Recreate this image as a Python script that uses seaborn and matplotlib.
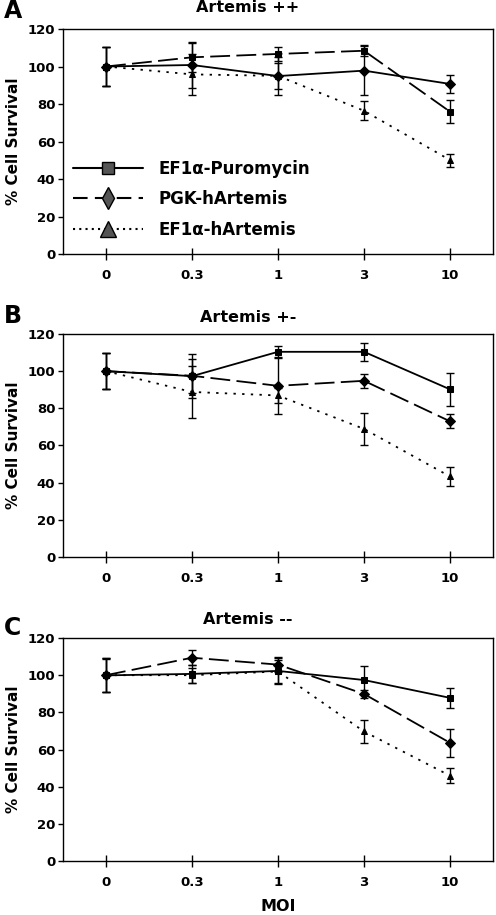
import numpy as np
import pandas as pd
import seaborn as sns
import matplotlib.pyplot as plt
from matplotlib.lines import Line2D

# MOI categories on the x axis
moi_labels = ['0', '0.3', '1', '3', '10']
series_names = ['EF1α-Puromycin', 'PGK-hArtemis', 'EF1α-hArtemis']

# Panel A - Artemis ++
a_puro = [100, 100.8, 94.9, 97.8, 90.7]
a_puro_err = [10.5, 12, 10, 13, 5]
a_pgk = [100, 104.9, 106.7, 108.4, 75.9]
a_pgk_err = [10.5, 8, 3.5, 3, 6]
a_hart = [100, 95.8, 95, 76.4, 50.1]
a_hart_err = [10.5, 11, 7, 5, 3.5]

# Panel B - Artemis +-
b_puro = [100, 97.3, 110.4, 110.4, 90.2]
b_puro_err = [9.7, 12, 3, 5, 9]
b_pgk = [100, 97.5, 92.1, 94.8, 73.0]
b_pgk_err = [9.7, 9, 15, 3.7, 3.8]
b_hart = [100, 88.8, 86.9, 68.9, 43.3]
b_hart_err = [9.7, 14, 4, 8.8, 5]

# Panel C - Artemis --
c_puro = [99.9, 100.7, 102.3, 97.4, 87.8]
c_puro_err = [9, 5, 7, 7.5, 5.5]
c_pgk = [100, 109.4, 105.7, 89.9, 63.6]
c_pgk_err = [9, 4, 4, 2, 7.7]
c_hart = [100, 100, 102, 69.7, 45.9]
c_hart_err = [9, 4, 6, 6, 3.9]

sns.set_style('ticks')
plt.rcParams['font.family'] = ['DejaVu Sans']
plt.rcParams['font.weight'] = 'bold'
plt.rcParams['text.color'] = 'black'
plt.rcParams['axes.labelcolor'] = 'black'
plt.rcParams['xtick.color'] = 'black'
plt.rcParams['ytick.color'] = 'black'

line_dashes = {series_names[0]: '', series_names[1]: (11, 3.5), series_names[2]: (1.3, 3.5)}
normal_markers = {series_names[0]: 's', series_names[1]: 'D', series_names[2]: '^'}
# in panel A the figure shows squares on the dashed line and diamonds on the solid one
swapped_markers = {series_names[0]: 'D', series_names[1]: 's', series_names[2]: '^'}


def draw_panel(ax, vals, errs, markers, title, letter, fig, title_y, letter_y):
    rows = []
    for name, v in zip(series_names, vals):
        for i, y in enumerate(v):
            rows.append({'pos': i, 'value': y, 'series': name})
    df = pd.DataFrame(rows)

    # error bars first so the lines sit on top
    for v, e in zip(vals, errs):
        ax.errorbar(range(len(moi_labels)), v, yerr=e, fmt='none', ecolor='black',
                    elinewidth=1, capsize=3, capthick=1, zorder=2)

    sns.lineplot(data=df, x='pos', y='value', style='series', style_order=series_names,
                 dashes=line_dashes, markers=markers, color='black', linewidth=1.3,
                 markersize=5, markeredgecolor='black', legend=False, ax=ax, zorder=3)

    ax.set_xlim(-0.5, 4.5)
    ax.set_ylim(0, 120)
    ax.set_yticks(np.arange(0, 121, 20))
    ax.set_xticks(range(len(moi_labels)))
    ax.set_xticklabels(moi_labels)
    ax.set_xlabel('')
    ax.set_ylabel('% Cell Survival', fontsize=11, fontweight='bold', labelpad=5)
    ax.tick_params(axis='y', direction='out', length=3.5, width=1, pad=2, labelsize=9.5)
    ax.tick_params(axis='x', direction='inout', length=8, width=1, pad=7, labelsize=9.5)
    for sp in ax.spines.values():
        sp.set_linewidth(1)
        sp.set_color('black')

    fig.text(0.5, title_y, title, ha='center', va='center', fontsize=11.5, fontweight='bold')
    fig.text(0.008, letter_y, letter, ha='left', va='center', fontsize=17, fontweight='bold')


fig = plt.figure(figsize=(4.96, 9.15), dpi=100)
ax_a = fig.add_axes([0.127, 0.7224, 0.867, 0.2459])
ax_b = fig.add_axes([0.127, 0.3913, 0.867, 0.2437])
ax_c = fig.add_axes([0.127, 0.059, 0.867, 0.2437])

draw_panel(ax_a, [a_puro, a_pgk, a_hart], [a_puro_err, a_pgk_err, a_hart_err],
           swapped_markers, 'Artemis ++', 'A', fig, 1 - 8 / 915, 1 - 11 / 915)
draw_panel(ax_b, [b_puro, b_pgk, b_hart], [b_puro_err, b_pgk_err, b_hart_err],
           normal_markers, 'Artemis +-', 'B', fig, 1 - 318 / 915, 1 - 316 / 915)
draw_panel(ax_c, [c_puro, c_pgk, c_hart], [c_puro_err, c_pgk_err, c_hart_err],
           normal_markers, 'Artemis --', 'C', fig, 1 - 620 / 915, 1 - 628 / 915)

ax_c.set_xlabel('MOI', fontsize=11.5, fontweight='bold', labelpad=7)

# legend in panel A
handles = [
    Line2D([], [], color='black', lw=1.5, linestyle='-', marker='s', markersize=8,
           markerfacecolor='#555555', markeredgecolor='black'),
    Line2D([], [], color='black', lw=1.5, linestyle=(0, (7, 3.5)), marker='d', markersize=11,
           markerfacecolor='#555555', markeredgecolor='black'),
    Line2D([], [], color='black', lw=1.5, linestyle=(0, (1, 2)), marker='^', markersize=11,
           markerfacecolor='#555555', markeredgecolor='black'),
]
ax_a.legend(handles, series_names, loc='center left', bbox_to_anchor=(0.008, 0.244),
            borderaxespad=0, frameon=False, handlelength=4.2, handletextpad=0.9,
            labelspacing=0.75, prop={'size': 12, 'weight': 'bold'})

fig.savefig('out.png', dpi=100)
